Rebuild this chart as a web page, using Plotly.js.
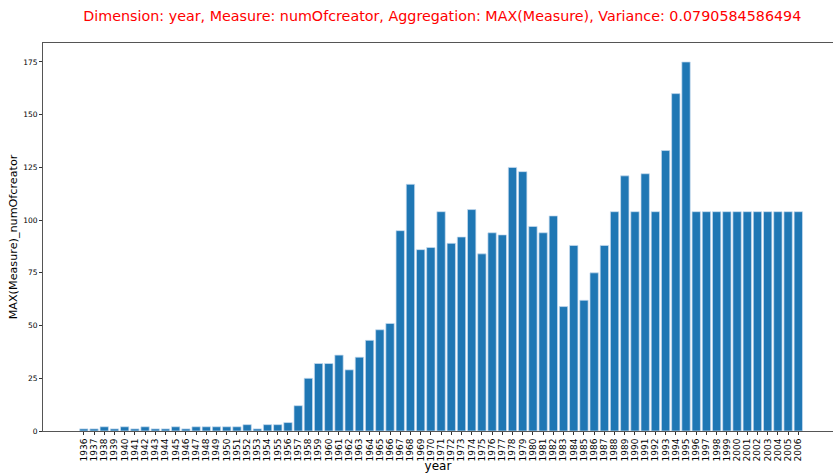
<!DOCTYPE html>
<html>
<head>
<meta charset="utf-8">
<script src="https://cdn.plot.ly/plotly-3.0.1.min.js"></script>
<style>html,body{margin:0;padding:0;background:#fff;}#chart{width:833px;height:473px;}</style>
</head>
<body>
<div id="chart"></div>
<script>
const years = ["1936","1937","1938","1939","1940","1941","1942","1943","1944","1945","1946","1947","1948","1949","1950","1951","1952","1953","1954","1955","1956","1957","1958","1959","1960","1961","1962","1963","1964","1965","1966","1967","1968","1969","1970","1971","1972","1973","1974","1975","1976","1977","1978","1979","1980","1981","1982","1983","1984","1985","1986","1987","1988","1989","1990","1991","1992","1993","1994","1995","1996","1997","1998","1999","2000","2001","2002","2003","2004","2005","2006"];
const numOfcreator = [1,1,2,1,2,1,2,1,1,2,1,2,2,2,2,2,3,1,3,3,4,12,25,32,32,36,29,35,43,48,51,95,117,86,87,104,89,92,105,84,94,93,125,123,97,94,102,59,88,62,75,88,104,121,104,122,104,133,160,175,104,104,104,104,104,104,104,104,104,104,104];
const yTicks = [0,25,50,75,100,125,150,175];

const trace = {
  type: 'bar',
  x: years,
  y: numOfcreator,
  width: 0.82,
  marker: {color: '#1f77b4', line: {color: 'rgba(200,220,240,0.9)', width: 0.8}},
  hoverinfo: 'x+y'
};

const layout = {
  width: 833, height: 473,
  margin: {l: 43, r: 0, t: 43, b: 42},
  paper_bgcolor: '#fff', plot_bgcolor: '#fff',
  font: {family: 'DejaVu Sans, sans-serif', color: '#000'},
  title: {
    text: 'Dimension: year, Measure: numOfcreator, Aggregation: MAX(Measure), Variance: 0.0790584586494',
    font: {size: 14.3, color: '#ff0000', family: 'DejaVu Sans, sans-serif'},
    x: 0.531, xanchor: 'center', y: 0.967, yanchor: 'middle'
  },
  xaxis: {
    type: 'category',
    range: [-4.0, 73.4],
    tickmode: 'array',
    tickvals: years,
    ticktext: years,
    tickangle: -90,
    tickfont: {size: 9, color: '#000'},
    ticks: 'outside', ticklen: 3, tickcolor: '#333',
    showgrid: false, zeroline: false,
    showline: true, linecolor: '#555', linewidth: 1, mirror: true,
    title: {text: 'year', font: {size: 12}, standoff: 2}
  },
  yaxis: {
    range: [0, 184],
    tickvals: yTicks,
    tickfont: {size: 7.5, color: '#000'},
    ticks: 'outside', ticklen: 3, tickcolor: '#333',
    showgrid: false, zeroline: false,
    showline: true, linecolor: '#555', linewidth: 1, mirror: false,
    title: {text: 'MAX(Measure)_numOfcreator', font: {size: 11.2}, standoff: 3}
  },
  showlegend: false
};

Plotly.newPlot('chart', [trace], layout, {displayModeBar: false, staticPlot: true});
</script>
</body>
</html>
